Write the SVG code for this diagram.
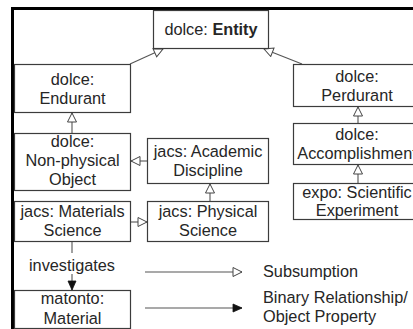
<svg xmlns="http://www.w3.org/2000/svg" width="413" height="329" viewBox="0 0 413 329">
<style>
.box{fill:#fff;stroke:#3c3c3c;stroke-width:1.2}
.t{font-family:"Liberation Sans",Arial,sans-serif;font-size:16.3px;fill:#262626;text-anchor:middle}
.l{font-family:"Liberation Sans",Arial,sans-serif;font-size:16.3px;fill:#262626}
.c{fill:none;stroke:#555;stroke-width:1.1}
</style>
<defs>
<marker id="sub" markerUnits="userSpaceOnUse" viewBox="-1 -1 12 11" markerWidth="12" markerHeight="11" refX="9" refY="4.5" orient="auto">
<path d="M0,0 L9,4.5 L0,9 Z" fill="#fff" stroke="#444" stroke-width="1"/>
</marker>
<marker id="rel" markerUnits="userSpaceOnUse" viewBox="-1 -1 12 11" markerWidth="12" markerHeight="11" refX="9" refY="4.5" orient="auto">
<path d="M0,0.5 L9,4.5 L0,8.5 Z" fill="#111" stroke="#111" stroke-width="0.8"/>
</marker>
</defs>
<rect width="413" height="329" fill="#fff"/>
<path d="M12.5 329 V8.5 H413" fill="none" stroke="#000" stroke-width="3"/>
<g id="connectors">
<path class="c" d="M130 64 L163 49" marker-end="url(#sub)"/>
<path class="c" d="M302 64 L264 49" marker-end="url(#sub)"/>
<path class="c" d="M72 133 L72 113" marker-end="url(#sub)"/>
<path class="c" d="M147 161 L131 161" marker-end="url(#sub)"/>
<path class="c" d="M210 201 L210 184" marker-end="url(#sub)"/>
<path class="c" d="M131 222 L147 222" marker-end="url(#sub)"/>
<path class="c" d="M358 123 L358 107" marker-end="url(#sub)"/>
<path class="c" d="M358 183 L358 165" marker-end="url(#sub)"/>
<path class="c" d="M72 242 V253 M72 274 V290" marker-end="url(#rel)"/>
<text class="t" x="72" y="271">investigates</text>
</g>
<g id="entity"><rect class="box" x="153.5" y="10.5" width="115" height="38"/><text class="t" x="211" y="35">dolce: <tspan font-weight="bold">Entity</tspan></text></g>
<g id="endurant"><rect class="box" x="14.5" y="64.5" width="116" height="48"/><text class="t" x="72.5" y="85">dolce:</text><text class="t" x="72.5" y="104">Endurant</text></g>
<g id="nonphysical"><rect class="box" x="14.5" y="133.5" width="116" height="57"/><text class="t" x="72.5" y="147">dolce:</text><text class="t" x="72.5" y="166">Non-physical</text><text class="t" x="72.5" y="185">Object</text></g>
<g id="academic"><rect class="box" x="147.5" y="138.5" width="121" height="45"/><text class="t" x="208" y="157">jacs: Academic</text><text class="t" x="208" y="176">Discipline</text></g>
<g id="materials"><rect class="box" x="14.5" y="201.5" width="116" height="40"/><text class="t" x="72.5" y="217">jacs: Materials</text><text class="t" x="72.5" y="236">Science</text></g>
<g id="physical"><rect class="box" x="147.5" y="201.5" width="121" height="40"/><text class="t" x="208" y="217">jacs: Physical</text><text class="t" x="208" y="236">Science</text></g>
<g id="material"><rect class="box" x="14.5" y="290.5" width="116" height="38"/><text class="t" x="72.5" y="304">matonto:</text><text class="t" x="72.5" y="323.5">Material</text></g>
<g id="perdurant"><rect class="box" x="293.5" y="64.5" width="130" height="42"/><text class="t" x="357" y="82">dolce:</text><text class="t" x="357" y="100.5">Perdurant</text></g>
<g id="accomplishment"><rect class="box" x="293.5" y="123.5" width="130" height="41"/><text class="t" x="357" y="140">dolce:</text><text class="t" x="357" y="158.5">Accomplishment</text></g>
<g id="experiment"><rect class="box" x="293.5" y="183.5" width="130" height="36"/><text class="t" x="357" y="197.5">expo: Scientific</text><text class="t" x="357" y="215.5">Experiment</text></g>
<g id="legend">
<path class="c" d="M145 272 H242" marker-end="url(#sub)"/>
<path class="c" d="M145 308 H242" marker-end="url(#rel)"/>
<text class="l" x="263" y="277">Subsumption</text>
<text class="l" x="263" y="303">Binary Relationship/</text>
<text class="l" x="263" y="322">Object Property</text>
</g>
</svg>
